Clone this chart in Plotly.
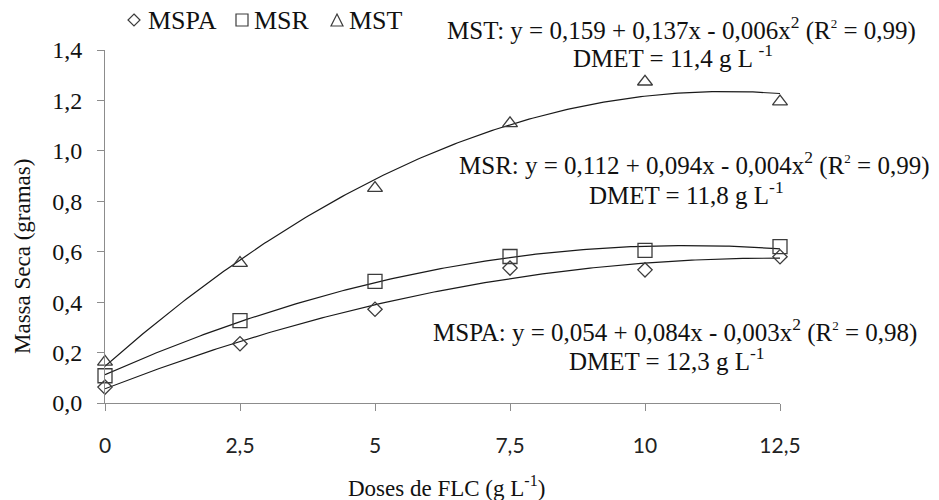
import numpy as np
import plotly.graph_objects as go

# Doses de FLC (g L-1)
doses = [0, 2.5, 5, 7.5, 10, 12.5]
dose_labels = ["0", "2,5", "5", "7,5", "10", "12,5"]

# Massa seca (g) per fraction
mspa = [0.063, 0.235, 0.372, 0.535, 0.528, 0.580]
msr = [0.108, 0.327, 0.482, 0.581, 0.605, 0.620]
mst = [0.163, 0.555, 0.852, 1.109, 1.274, 1.195]

series_names = ["MSPA", "MSR", "MST"]
series_values = [mspa, msr, mst]
series_symbols = ["diamond-open", "square-open", "triangle-up-open"]
series_sizes = [11, 14, 13]

R2 = "R<sup><span style='font-size:13px'>2</span></sup>"
equations = [
    f"MSPA: y = 0,054 + 0,084x - 0,003x<sup>2</sup> ({R2} = 0,98)",
    f"MSR: y = 0,112 + 0,094x - 0,004x<sup>2</sup> ({R2} = 0,99)",
    f"MST: y = 0,159 + 0,137x - 0,006x<sup>2</sup> ({R2} = 0,99)",
]
dmet = [
    "DMET = 12,3 g L<sup>-1</sup>",
    "DMET = 11,8 g L<sup>-1</sup>",
    "DMET = 11,4 g L <sup>-1</sup>",
]

SERIF = "Liberation Serif, Times New Roman, serif"
SANS = "Lato, Liberation Sans, sans-serif"
AXIS_GREY = "#8c8c8c"
MARK_GREY = "#3c3c3c"
TEXT = "#111111"

W, H = 939, 500
L, R, T, B = 105, 159, 50, 97
PW, PH = W - L - R, H - T - B


def px(x):
    return (x - L) / PW


def py(y):
    return 1 - (y - T) / PH


fig = go.Figure()

# Quadratic trend lines fitted to each series
xs = np.linspace(0, 12.5, 200)
for vals in series_values:
    coef = np.polyfit(doses, vals, 2)
    fig.add_trace(go.Scatter(
        x=xs, y=np.polyval(coef, xs), mode="lines",
        line=dict(color="#1a1a1a", width=1.2),
        showlegend=False, hoverinfo="skip", cliponaxis=False,
    ))

for name, vals, sym, size in zip(series_names, series_values, series_symbols, series_sizes):
    fig.add_trace(go.Scatter(
        x=doses, y=vals, mode="markers", name=name,
        marker=dict(symbol=sym, size=size, color=MARK_GREY,
                    line=dict(color=MARK_GREY, width=1.3)),
        cliponaxis=False, showlegend=False,
    ))

# Compact key above the plot: small open symbol followed by the series name
key_symbols = [
    (134, 20, "M 134 14 L 140 20 L 134 26 L 128 20 Z"),
    (242, 20, "M 236 14 L 248 14 L 248 26 L 236 26 Z"),
    (337, 20, "M 337 14 L 343 26 L 331 26 Z"),
]
key_text_x = [146, 252, 347]
for (cx, cy, path), tx, name in zip(key_symbols, key_text_x, series_names):
    pts = path.split()
    conv = []
    i = 0
    while i < len(pts):
        tok = pts[i]
        if tok in ("M", "L"):
            xv, yv = float(pts[i + 1]), float(pts[i + 2])
            conv.append(f"{tok} {px(xv):.5f} {py(yv):.5f}")
            i += 3
        else:
            conv.append(tok)
            i += 1
    fig.add_shape(type="path", path=" ".join(conv), xref="paper", yref="paper",
                  line=dict(color=MARK_GREY, width=1.2), fillcolor="rgba(0,0,0,0)")
    fig.add_annotation(x=px(tx), y=py(cy), xref="paper", yref="paper", text=name,
                       xanchor="left", yanchor="middle", showarrow=False,
                       font=dict(family=SERIF, size=26, color=TEXT))

# Regression equations (one block per series), centres in pixels
eq_pos = [(675, 330, 359), (694, 163, 193), (681, 28, 56)]
for (cx, y1, y2), eq, dm in zip(eq_pos, equations, dmet):
    fig.add_annotation(x=px(cx), y=py(y1), xref="paper", yref="paper", text=eq,
                       xanchor="center", yanchor="middle", showarrow=False,
                       font=dict(family=SERIF, size=25, color=TEXT))
    fig.add_annotation(x=px(cx - 8), y=py(y2), xref="paper", yref="paper", text=dm,
                       xanchor="center", yanchor="middle", showarrow=False,
                       font=dict(family=SERIF, size=25, color=TEXT))

# Axis titles
fig.add_annotation(x=px(446), y=py(486), xref="paper", yref="paper",
                   text="Doses de FLC (g L<sup>-1</sup>)", showarrow=False,
                   xanchor="center", yanchor="middle",
                   font=dict(family=SERIF, size=23, color=TEXT))
fig.add_annotation(x=px(22), y=py(257), xref="paper", yref="paper",
                   text="Massa Seca (gramas)", textangle=-90, showarrow=False,
                   xanchor="center", yanchor="middle",
                   font=dict(family=SERIF, size=23, color=TEXT))

fig.update_layout(
    width=W, height=H,
    margin=dict(l=L, r=R, t=T, b=B, autoexpand=False),
    plot_bgcolor="white", paper_bgcolor="white",
    separators=", ",
    showlegend=False,
    xaxis=dict(range=[0, 12.5], tickvals=doses, ticktext=dose_labels,
               showgrid=False, zeroline=False, showline=True,
               linecolor=AXIS_GREY, linewidth=1,
               ticks="outside", ticklen=7, tickcolor=AXIS_GREY,
               ticklabelstandoff=17,
               tickfont=dict(family=SANS, size=21, color="#222")),
    yaxis=dict(range=[0, 1.4], dtick=0.2, tickformat=".1f",
               showgrid=False, zeroline=False, showline=True,
               linecolor=AXIS_GREY, linewidth=1,
               ticks="outside", ticklen=7, tickcolor=AXIS_GREY,
               ticklabelstandoff=10,
               tickfont=dict(family=SERIF, size=24, color=TEXT)),
)

fig.write_html("out.html")
